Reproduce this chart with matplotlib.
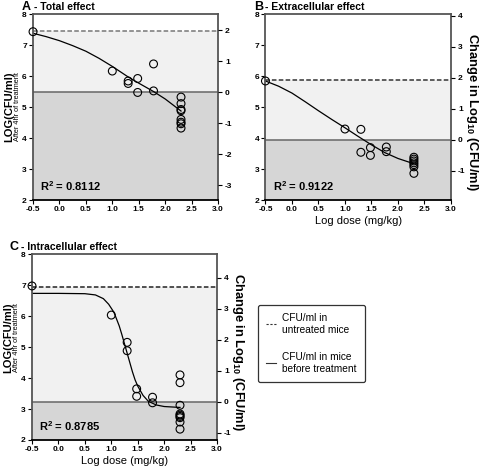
import matplotlib
matplotlib.use('Agg')
import matplotlib.pyplot as plt
from matplotlib.lines import Line2D

plt.rcParams['font.family'] = ['Liberation Sans', 'DejaVu Sans']
plt.rcParams['axes.unicode_minus'] = False
plt.rcParams['mathtext.fontset'] = 'custom'
plt.rcParams['mathtext.bf'] = 'Liberation Sans:bold'
plt.rcParams['mathtext.rm'] = 'Liberation Sans'

# ---- data ----
# panel A - total effect
a_dose = [-0.5, 1.0, 1.3, 1.3, 1.48, 1.48, 1.78, 1.78,
          2.3, 2.3, 2.3, 2.3, 2.3, 2.3, 2.3, 2.3]
a_cfu = [7.43, 6.16, 5.84, 5.76, 5.92, 5.47, 6.39, 5.52,
         5.32, 5.11, 4.92, 4.88, 4.60, 4.51, 4.46, 4.32]
a_fit_x = [-0.5, -0.25, 0.0, 0.25, 0.5, 0.75, 1.0, 1.3, 1.5, 1.78, 2.0, 2.3]
a_fit_y = [7.38, 7.27, 7.14, 6.98, 6.80, 6.57, 6.31, 5.97, 5.77, 5.50, 5.26, 4.87]
a_untreated, a_before = 7.44, 5.48
a_r2 = '0.8112'

# panel B - extracellular effect
b_dose = [-0.5, 1.0, 1.3, 1.3, 1.48, 1.48, 1.78, 1.78,
          2.3, 2.3, 2.3, 2.3, 2.3, 2.3, 2.3]
b_cfu = [5.84, 4.29, 4.28, 3.54, 3.69, 3.44, 3.71, 3.56,
         3.38, 3.32, 3.26, 3.20, 3.14, 3.07, 2.86]
b_fit_x = [-0.5, -0.25, 0.0, 0.25, 0.5, 0.75, 1.0, 1.25, 1.5, 1.75, 2.0, 2.3]
b_fit_y = [5.84, 5.67, 5.45, 5.17, 4.88, 4.60, 4.33, 4.05, 3.78, 3.53, 3.34, 3.17]
b_untreated, b_before = 5.86, 3.95
b_r2 = '0.9122'

# panel C - intracellular effect
c_dose = [-0.5, 1.0, 1.3, 1.3, 1.48, 1.48, 1.78, 1.78,
          2.3, 2.3, 2.3, 2.3, 2.3, 2.3, 2.3, 2.3, 2.3]
c_cfu = [6.97, 6.03, 5.15, 4.88, 3.65, 3.41, 3.38, 3.20,
         4.10, 3.85, 3.12, 2.84, 2.80, 2.76, 2.72, 2.58, 2.35]
c_fit_x = [-0.5, 0.0, 0.5, 0.7, 0.85, 0.95, 1.05, 1.15, 1.2, 1.25, 1.3,
           1.35, 1.4, 1.45, 1.5, 1.6, 1.7, 1.85, 2.0, 2.3]
c_fit_y = [6.73, 6.73, 6.72, 6.68, 6.56, 6.38, 6.12, 5.68, 5.40, 5.10, 4.80,
           4.50, 4.20, 3.94, 3.74, 3.44, 3.25, 3.13, 3.08, 3.05]
c_untreated, c_before = 6.95, 3.24
c_r2 = '0.8785'

x_ticks = [-0.5, 0.0, 0.5, 1.0, 1.5, 2.0, 2.5, 3.0]
y_ticks = [2, 3, 4, 5, 6, 7, 8]

LIGHT = '#f1f1f1'
DARK = '#d6d6d6'
SPINE = '#555555'
H = 466.0

fig = plt.figure(figsize=(4.8, 4.66), dpi=100)


def panel(rect, dose, cfu, fx, fy, untreated, before, r2, letter, title,
          letter_dx, title_dx, right_ticks, dash_col, left_label, left_pos,
          right_label, x_label):
    ax = fig.add_axes(rect)
    ax.set_xlim(-0.5, 3.0)
    ax.set_ylim(2, 8)
    ax.axhspan(2, before, color=DARK, lw=0, zorder=0)
    ax.axhspan(before, untreated, color=LIGHT, lw=0, zorder=0)
    ax.axhline(untreated, color=dash_col, ls=(0, (3, 1.5)), lw=1.1, zorder=1)
    ax.axhline(before, color='#666666', lw=1.1, zorder=1)
    ax.plot(fx, fy, color='black', lw=0.9, zorder=2)
    ax.scatter(dose, cfu, s=32, facecolor='none', edgecolor='black',
               linewidth=0.8, zorder=3, clip_on=False)
    ax.set_xticks(x_ticks)
    ax.set_xticklabels(['%.1f' % v for v in x_ticks])
    ax.set_yticks(y_ticks)
    ax.tick_params(labelsize=6, length=3, width=0.8, pad=1.5)
    for t in ax.get_xticklabels() + ax.get_yticklabels():
        t.set_fontweight('bold')
    for s in ax.spines.values():
        s.set_color(SPINE)
        s.set_linewidth(1.3)
    ax.spines['bottom'].set_color('black')
    ax.text(0.04, 0.035, 'R$^\\mathbf{2}$ = ' + r2, transform=ax.transAxes,
            fontsize=8, fontweight='bold', va='bottom')

    ax2 = ax.twinx()
    ax2.set_ylim(2 - before, 8 - before)
    ax2.set_yticks(right_ticks)
    ax2.tick_params(labelsize=6, length=3, width=0.8, pad=2)
    for t in ax2.get_yticklabels():
        t.set_fontweight('bold')
    for s in ax2.spines.values():
        s.set_visible(False)

    top = rect[1] + rect[3] + 4 / H
    fig.text(rect[0] + letter_dx / 480, top, letter,
             fontsize=9, fontweight='bold', va='baseline')
    fig.text(rect[0] + title_dx / 480, top, title,
             fontsize=7.5, fontweight='bold', va='baseline')

    if left_label:
        fig.text(rect[0] - 0.050, rect[1] + rect[3] * left_pos, 'LOG(CFU/ml)',
                 rotation=90, fontsize=8, fontweight='bold',
                 ha='center', va='center')
        fig.text(rect[0] - 0.033, rect[1] + rect[3] * left_pos,
                 'After 4hr of treatment', rotation=90, fontsize=5.3,
                 ha='center', va='center')
    if right_label:
        fig.text(rect[0] + rect[2] + 0.044, rect[1] + rect[3] * 0.47,
                 'Change in Log$_{\\mathbf{10}}$ (CFU/ml)', rotation=-90,
                 fontsize=9.3, fontweight='bold', ha='center', va='center')
    if x_label:
        ax.set_xlabel('Log dose (mg/kg)', fontsize=8, labelpad=2)
    return ax


panel([0.0688, 0.5708, 0.3854, 0.3991], a_dose, a_cfu, a_fit_x, a_fit_y,
      a_untreated, a_before, a_r2, 'A', '- Total effect', -11, 1,
      [-3, -2, -1, 0, 1, 2], '#777777', True, 0.5, False, False)
panel([0.553, 0.5708, 0.3866, 0.3991], b_dose, b_cfu, b_fit_x, b_fit_y,
      b_untreated, b_before, b_r2, 'B', '- Extracellular effect', -11, 0,
      [-1, 0, 1, 2, 3, 4], '#333333', False, 0.5, True, True)
panel([0.0667, 0.0558, 0.3854, 0.3991], c_dose, c_cfu, c_fit_x, c_fit_y,
      c_untreated, c_before, c_r2, 'C', '- Intracellular effect', -23, -11,
      [-1, 0, 1, 2, 3, 4], '#222222', True, 0.55, True, True)

handles = [Line2D([], [], color='#333333', ls=(0, (2, 1.5)), lw=0.8),
           Line2D([], [], color='#333333', lw=0.8)]
labels = ['CFU/ml in\nuntreated mice', 'CFU/ml in mice\nbefore treatment']
leg = fig.legend(handles, labels, loc='upper left',
                 bbox_to_anchor=(258 / 480, 1 - 305 / H), borderaxespad=0,
                 prop={'size': 7.3}, handlelength=1.0, handletextpad=0.6,
                 labelspacing=1.7, borderpad=0.8, fancybox=True,
                 edgecolor='#333333', framealpha=1)
leg.get_frame().set_linewidth(0.9)

fig.savefig('out.png', dpi=100)
